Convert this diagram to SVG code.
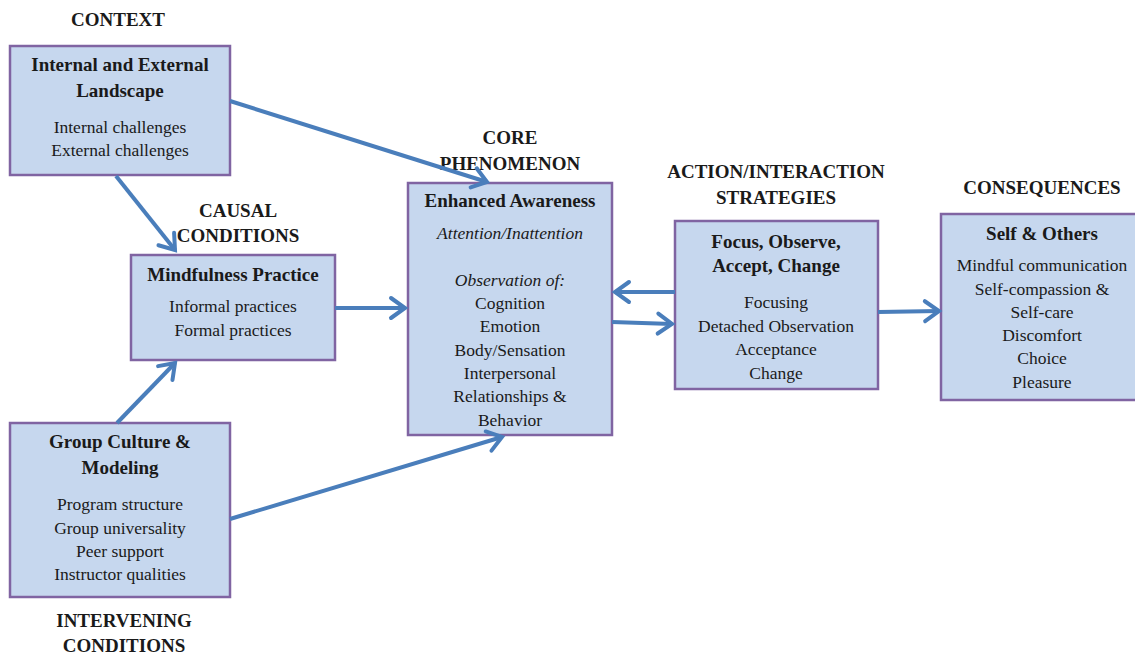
<svg xmlns="http://www.w3.org/2000/svg" width="1135" height="655" viewBox="0 0 1135 655">
<style>
.box{fill:#c6d7ee;stroke:#8064a2;stroke-width:2.5}
text{font-family:"Liberation Serif","Times New Roman",serif;fill:#1a1a1a;text-anchor:middle}
.h{font-weight:bold;font-size:19px}
.t{font-weight:bold;font-size:19px}
.b{font-size:17.5px}
.i{font-size:17.5px;font-style:italic}
.c{fill:none;stroke:#4a7ebb;stroke-width:4;marker-end:url(#ah)}
</style>
<defs>
<marker id="ah" markerUnits="userSpaceOnUse" markerWidth="30" markerHeight="30" viewBox="-20 -15 30 30" refX="0" refY="0" orient="auto">
<path d="M-14,-10 L0,0 L-14,10" fill="none" stroke="#4a7ebb" stroke-width="4" stroke-linecap="round" stroke-linejoin="miter"/>
</marker>
</defs>
<rect width="1135" height="655" fill="#fff"/>
<g id="labels">
<text class="h" x="118" y="26">CONTEXT</text>
<text class="h" x="238" y="217">CAUSAL</text>
<text class="h" x="238" y="242">CONDITIONS</text>
<text class="h" x="510" y="144">CORE</text>
<text class="h" x="510" y="170">PHENOMENON</text>
<text class="h" x="776" y="178">ACTION/INTERACTION</text>
<text class="h" x="776" y="204">STRATEGIES</text>
<text class="h" x="1042" y="194">CONSEQUENCES</text>
<text class="h" x="124" y="627">INTERVENING</text>
<text class="h" x="124" y="652">CONDITIONS</text>
</g>
<g id="context">
<rect class="box" x="10" y="46" width="220" height="129"/>
<text class="t" x="120" y="71">Internal and External</text>
<text class="t" x="120" y="97">Landscape</text>
<text class="b" x="120" y="133">Internal challenges</text>
<text class="b" x="120" y="156">External challenges</text>
</g>
<g id="mindfulness">
<rect class="box" x="131" y="255" width="204" height="105"/>
<text class="t" x="233" y="281">Mindfulness Practice</text>
<text class="b" x="233" y="312">Informal practices</text>
<text class="b" x="233" y="336">Formal practices</text>
</g>
<g id="group">
<rect class="box" x="10" y="423" width="220" height="174"/>
<text class="t" x="120" y="448">Group Culture &amp;</text>
<text class="t" x="120" y="474">Modeling</text>
<text class="b" x="120" y="510">Program structure</text>
<text class="b" x="120" y="534">Group universality</text>
<text class="b" x="120" y="557">Peer support</text>
<text class="b" x="120" y="580">Instructor qualities</text>
</g>
<g id="awareness">
<rect class="box" x="408" y="183" width="204" height="252"/>
<text class="t" x="510" y="207">Enhanced Awareness</text>
<text class="i" x="510" y="239">Attention/Inattention</text>
<text class="i" x="510" y="286">Observation of:</text>
<text class="b" x="510" y="309">Cognition</text>
<text class="b" x="510" y="332">Emotion</text>
<text class="b" x="510" y="356">Body/Sensation</text>
<text class="b" x="510" y="379">Interpersonal</text>
<text class="b" x="510" y="402">Relationships &amp;</text>
<text class="b" x="510" y="426">Behavior</text>
</g>
<g id="strategies">
<rect class="box" x="675" y="221" width="203" height="168"/>
<text class="t" x="776" y="248">Focus, Observe,</text>
<text class="t" x="776" y="272">Accept, Change</text>
<text class="b" x="776" y="308">Focusing</text>
<text class="b" x="776" y="332">Detached Observation</text>
<text class="b" x="776" y="355">Acceptance</text>
<text class="b" x="776" y="379">Change</text>
</g>
<g id="consequences">
<rect class="box" x="941" y="214" width="196" height="186"/>
<text class="t" x="1042" y="240">Self &amp; Others</text>
<text class="b" x="1042" y="271">Mindful communication</text>
<text class="b" x="1042" y="295">Self-compassion &amp;</text>
<text class="b" x="1042" y="318">Self-care</text>
<text class="b" x="1042" y="341">Discomfort</text>
<text class="b" x="1042" y="364">Choice</text>
<text class="b" x="1042" y="388">Pleasure</text>
</g>
<g id="connectors">
<path class="c" d="M230,101 L487,182"/>
<path class="c" d="M116,176 L175,250"/>
<path class="c" d="M335,308 L405,308"/>
<path class="c" d="M117,423 L175,363"/>
<path class="c" d="M230,519 L502,437"/>
<path class="c" d="M675,292 L615,292"/>
<path class="c" d="M612,322 L672,324"/>
<path class="c" d="M878,312 L939,311"/>
</g>
</svg>
